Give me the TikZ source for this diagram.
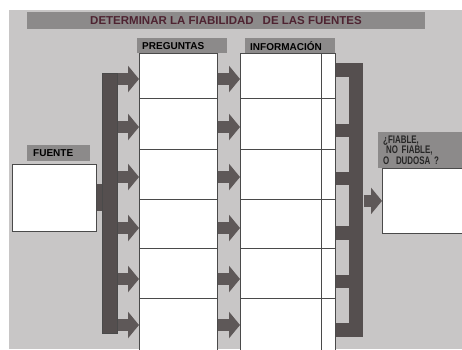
\documentclass[tikz,border=0pt]{standalone}
\usepackage{fontspec}
\setmainfont{Liberation Sans}
\newfontfamily\estrecha[FakeStretch=0.72]{Liberation Sans}
\usetikzlibrary{arrows.meta}

\definecolor{fondo}{HTML}{C8C6C6}
\definecolor{gristit}{HTML}{8C8A8A}
\definecolor{oscuro}{HTML}{554F4F}
\definecolor{flechagris}{HTML}{5E5858}
\definecolor{borde}{HTML}{4A4A4A}
\definecolor{granate}{HTML}{4E2331}

\begin{document}
\begin{tikzpicture}[x=1pt, y=-1pt,
    etiqueta/.style={
        fill=gristit,
        anchor=north west,
        inner xsep=5pt,
        inner ysep=0pt,
        align=left,
        font=\bfseries\fontsize{10}{12}\selectfont},
    celda/.style={
        draw=borde,
        fill=white,
        line width=0.8pt,
        inner sep=0pt,
        anchor=north west},
    barra/.style={
        draw=borde,
        fill=oscuro,
        line width=0.6pt,
        inner sep=0pt,
        anchor=north west},
    flecha/.style={
        draw=flechagris,
        line width=12pt,
        -{Triangle[length=11pt,width=26pt]}},
    diente/.style={draw=oscuro, line width=13.5pt}]

    \useasboundingbox (0,0) rectangle (462,349);
    \fill[fondo] (9,10) rectangle (462,349);

    % titulo
    \node[fill=gristit, minimum width=398pt, minimum height=17pt, inner sep=0pt,
        text=granate, font=\bfseries\fontsize{11.5}{13}\selectfont]
        (titulo) at (226,20.5) {DETERMINAR LA FIABILIDAD\hspace{0.5em} DE LAS FUENTES};

    % fuente
    \node[celda, minimum width=84pt, minimum height=67pt] (fuente) at (12,164) {};
    \node[etiqueta, inner xsep=6pt, text width=51pt, minimum height=16pt]
        (fuentel) at (27,145) {FUENTE};

    % barras
    \node[barra, minimum width=15pt, minimum height=260pt] (lbar) at (102,73) {};
    \node[barra, draw=none, minimum width=14pt, minimum height=274pt] (rbar) at (349,63) {};
    \draw[oscuro, line width=27pt] (fuente.east) -- (lbar.west |- fuente.east);

    % columnas
    \foreach \i/\ya/\yb/\y in {1/53/98/79, 2/98/149/127, 3/149/199/177,
                               4/199/248/228, 5/248/298/279, 6/298/352/325} {
        \coordinate (r\i) at (0,\y);
        \node[celda, minimum width=78pt, minimum height={\yb-\ya}] (p\i) at (139,\ya) {};
        \node[celda, minimum width=95pt, minimum height={\yb-\ya}] (i\i) at (240,\ya) {};
        \draw[flecha] (lbar.east |- r\i) -- (p\i.west |- r\i);
        \draw[flecha] (p\i.east |- r\i) -- (i\i.west |- r\i);
    }
    \draw[borde, line width=0.8pt] (321,53) -- (321,352);

    % peine de la derecha
    \foreach \i/\y in {1/70, 2/130.5, 3/178.5, 4/233, 5/281.5, 6/330}
        \draw[diente] (i\i.east |- 0,\y) -- (rbar.west |- 0,\y);

    \node[etiqueta, text width=80pt, minimum height=15pt] (pregl) at (137,38) {PREGUNTAS};
    \node[etiqueta, text width=80pt, minimum height=15pt] (infol) at (245,38) {INFORMACIÓN};

    % resultado
    \node[celda, minimum width=90pt, minimum height=65pt] (res) at (382,168) {};
    \node[etiqueta, minimum width=90pt, minimum height=36pt, text width=80pt,
        font=\estrecha\bfseries\fontsize{11}{10.8}\selectfont, text=black!85]
        (resl) at (378,132) {¿FIABLE,\\\hspace*{3pt}NO FIABLE,\\O\hspace{3pt} DUDOSA ?};
    \draw[flecha] (rbar.east |- res.west) -- (res.west);
\end{tikzpicture}
\end{document}
